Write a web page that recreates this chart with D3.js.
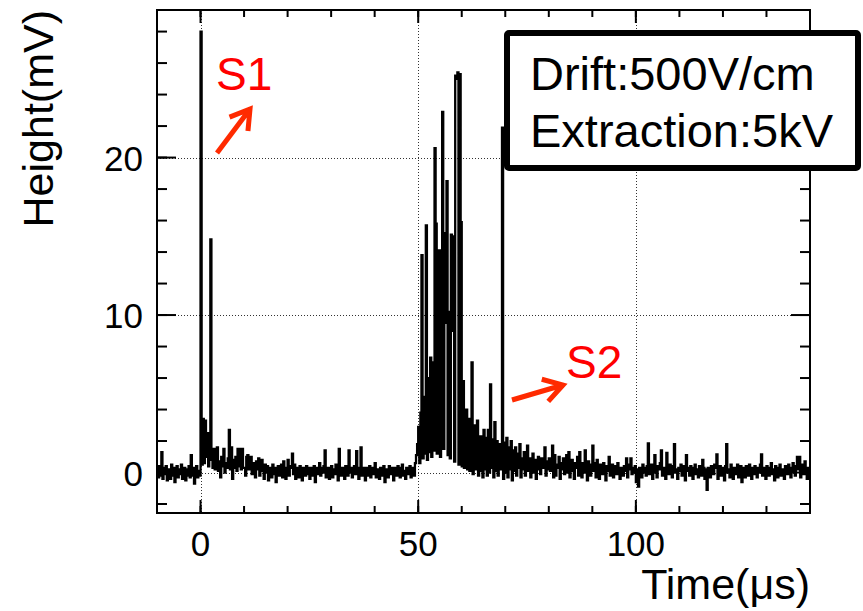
<!DOCTYPE html>
<html>
<head>
<meta charset="utf-8">
<script src="https://cdn.jsdelivr.net/npm/d3@7"></script>
<style>
  html, body { margin: 0; padding: 0; background: #fff; }
  svg { display: block; }
  text { font-family: "Liberation Sans", Arial, sans-serif; }
</style>
</head>
<body>
<svg id="chart" width="863" height="611"></svg>
<script>
// ---------------- data ----------------
const sampleStart = -10;   // µs, time of first sample
const sampleStep = 0.25;   // µs between samples

// t = -10 .. -0.25 µs (pre-trigger baseline)
const preTrigger = [0.2,-0.3,0.4,-0.2,1.3,-0.4,0.3,-0.1,0.4,-0.5,0.2,0.0,-0.4,0.5,-0.2,0.3,-0.6,0.1,0.4,-0.3,
  0.2,-0.1,0.5,-0.4,0.1,0.3,-0.5,0.2,-0.2,0.4,-0.3,1.1,-0.2,0.3,-0.7,0.2,0.4,-0.3,0.1,-0.2];

// t = 0 .. 9.75 µs (S1)
const s1Region = [28.0,0.5,3.4,0.6,3.3,1.0,2.5,0.4,0.8,14.8,1.2,0.3,1.5,0.2,0.9,1.6,0.1,0.7,-0.3,1.0,
  0.4,1.5,0.0,0.6,0.3,0.9,2.7,0.2,1.6,-0.4,0.8,0.3,1.0,0.1,1.5,0.4,1.5,0.2,1.5,0.3];

// t = 10 .. 49.75 µs (drift)
const driftRegion = [
  0.3,-0.2,1.0,1.1,0.2,0.8,1.0,-0.1,0.6,0.3,
  -0.3,0.7,0.2,0.9,-0.2,0.4,0.8,0.1,-0.4,0.5,
  0.0,0.4,-0.5,0.3,0.2,-0.3,0.5,-0.1,0.3,-0.6,
  0.2,0.4,-0.2,0.1,0.5,-0.3,0.7,0.0,-0.4,0.3,
  0.8,-0.2,0.3,0.4,1.2,-0.1,0.5,-0.4,0.2,0.3,
  -0.3,0.4,0.1,-0.5,0.3,0.2,-0.2,0.4,-0.1,0.3,
  -0.4,0.2,0.3,-0.2,0.4,-0.6,0.1,0.3,-0.1,0.6,
  -0.2,0.3,0.0,0.4,1.4,-0.3,0.2,0.3,-0.4,0.2,
  0.4,-0.3,0.2,-0.1,0.5,0.1,-0.5,1.5,0.2,-0.2,
  0.3,0.1,-0.4,0.4,0.2,-0.2,1.4,0.0,0.3,-0.3,
  0.2,0.4,-0.1,1.35,0.3,-0.4,0.2,1.6,-0.2,0.3,
  0.1,-0.5,0.3,0.2,-0.2,0.4,-0.3,0.1,0.3,-0.1,
  0.6,-0.3,0.2,0.0,-0.4,0.3,0.2,-0.2,0.4,-0.6,
  0.2,0.1,-0.3,0.4,-0.1,0.2,0.3,-0.5,0.1,0.3,
  -0.2,0.4,0.0,-0.3,0.3,0.5,-0.2,0.1,-0.4,0.3,
  0.2,-0.1,0.4,-0.3,0.3,0.1,-0.2,0.6,1.1,1.8];

// t = 50 .. 71.75 µs (S2 burst)
const s2Region = [
  2.9,0.6,3.8,13.8,0.9,4.8,1.2,15.7,0.8,6.0,
  1.3,7.3,1.0,7.0,1.4,20.6,15.8,1.2,8.0,14.1,
  1.0,9.0,22.9,1.5,15.2,9.5,18.5,1.1,10.2,0.9,
  15.1,9.0,15.0,0.7,25.2,25.0,25.4,0.5,25.3,15.9,
  0.4,5.8,0.3,4.0,4.0,0.2,3.4,0.1,3.0,7.0,
  -0.1,3.0,0.2,2.6,3.3,-0.2,2.3,0.1,2.3,-0.3,
  2.7,0.2,2.2,-0.2,2.7,0.0,5.6,0.3,2.1,-0.3,
  3.2,0.1,2.0,-0.2,1.8,0.2,1.7,21.9,-0.4,1.9,
  0.0,2.2,-0.3,1.6,0.2,2.0,-0.5,1.4];

// t = 72 .. 139.75 µs (tail)
const tailRegion = [
  0.1,1.6,-0.2,1.2,0.3,1.8,-0.3,0.9,0.2,1.3,
  -0.2,0.6,1.7,0.1,0.9,-0.3,0.7,1.2,0.0,0.8,
  -0.4,0.5,1.0,0.2,-0.1,0.9,0.3,0.6,1.6,-0.2,
  0.7,0.2,0.9,0.1,0.6,1.7,-0.3,1.1,-0.2,0.5,
  0.3,1.0,-0.4,0.6,0.2,0.9,-0.1,0.4,1.1,0.0,
  1.3,-0.3,0.5,0.8,0.1,-0.4,0.6,0.3,1.0,-0.2,
  1.3,0.2,-0.3,0.6,0.0,1.4,0.4,-0.5,0.7,0.3,
  -0.2,0.5,1.7,0.1,0.6,-0.3,0.8,0.2,-0.4,0.5,
  0.3,-0.1,0.6,0.2,-0.5,0.4,0.1,1.0,-0.2,0.3,
  0.5,-0.3,0.2,0.4,-0.1,0.6,0.0,-0.4,0.3,0.2,
  -0.2,0.4,0.1,0.9,-0.3,0.5,0.2,0.9,-0.1,0.3,
  0.0,0.4,-0.6,0.2,-0.9,0.3,0.1,-0.3,0.5,0.0,
  0.3,-0.2,0.4,1.85,-0.1,0.2,0.5,-0.4,0.3,1.1,
  0.0,-0.3,0.4,0.2,0.6,1.4,-0.2,0.3,0.1,-0.4,
  1.25,0.2,-0.1,0.5,0.3,-0.3,0.4,1.8,0.0,0.2,
  -0.4,0.3,0.1,0.5,-0.2,0.2,0.4,-0.5,1.1,0.1,
  0.3,-0.2,0.4,0.0,-0.4,0.3,0.5,-0.1,0.2,-0.3,
  0.4,0.1,-0.2,0.8,0.3,-0.4,0.2,-1.1,0.3,0.0,
  -0.3,0.4,0.2,-0.1,0.5,0.3,1.15,-0.4,0.2,0.4,
  -0.2,0.3,0.1,-0.5,0.4,1.8,0.0,0.2,-0.3,0.5,
  0.1,-0.4,0.3,0.2,-0.1,0.5,-0.3,0.2,0.4,-0.6,
  0.3,0.0,-0.3,0.4,0.1,-0.2,0.5,0.2,-0.4,0.3,
  -0.1,0.4,0.2,-0.3,0.3,0.0,0.5,1.15,-0.2,0.3,
  0.1,-0.4,0.4,0.2,-0.2,0.3,0.6,-0.1,0.2,-0.5,
  0.4,0.1,-0.3,0.3,0.5,-0.2,0.2,0.0,-0.4,0.4,
  0.2,-0.1,0.5,0.3,-0.3,0.2,0.6,0.1,-0.2,0.4,
  1.0,0.2,1.0,-0.3,0.5,0.3,-0.1,0.7,0.2,-0.4,
  0.3,0.1];

const xDomain = [-10, 140];
const yDomain = [-2.57, 29.37];
const xMajorTicks = [0, 50, 100];
const xMinorTicks = [-10, 0, 10, 20, 30, 40, 50, 60, 70, 80, 90, 100, 110, 120, 130, 140];
const yMajorTicks = [0, 10, 20];
const yMinorTicks = [-2, 0, 2, 4, 6, 8, 10, 12, 14, 16, 18, 20, 22, 24, 26, 28];
const xTitle = "Time(μs)";
const yTitle = "Height(mV)";
const legendLines = ["Drift:500V/cm", "Extraction:5kV"];
const annotations = [
  { label: "S1", tx: 216, ty: 90, ax1: 217, ay1: 153, ax2: 250, ay2: 109 },
  { label: "S2", tx: 566, ty: 378, ax1: 512, ay1: 400, ax2: 563, ay2: 385 }
];

// ---------------- drawing ----------------
const values = [].concat(preTrigger, s1Region, driftRegion, s2Region, tailRegion);
const samples = values.map((v, i) => ({ t: sampleStart + i * sampleStep, v }));

const svg = d3.select("#chart");
const L = 157, R = 810, T = 10, B = 513;
const x = d3.scaleLinear().domain(xDomain).range([L, R]);
const y = d3.scaleLinear().domain(yDomain).range([B, T]);

svg.append("defs").append("clipPath").attr("id", "plotclip")
  .append("rect").attr("x", L).attr("y", T).attr("width", R - L).attr("height", B - T);

// grid
const grid = svg.append("g").attr("stroke", "#000").attr("stroke-width", 1)
  .attr("stroke-dasharray", "1,2").attr("opacity", 0.8);
grid.selectAll("line.gx").data(xMajorTicks).enter().append("line")
  .attr("x1", d => Math.round(x(d)) + 0.5).attr("x2", d => Math.round(x(d)) + 0.5)
  .attr("y1", T).attr("y2", B);
grid.selectAll("line.gy").data(yMajorTicks).enter().append("line")
  .attr("y1", d => Math.round(y(d)) + 0.5).attr("y2", d => Math.round(y(d)) + 0.5)
  .attr("x1", L).attr("x2", R);

// trace
const line = d3.line().x(d => x(d.t)).y(d => y(d.v)).curve(d3.curveStepAfter);
svg.append("path").datum(samples)
  .attr("clip-path", "url(#plotclip)")
  .attr("fill", "none").attr("stroke", "#000").attr("stroke-width", 2.3)
  .attr("stroke-linejoin", "miter")
  .attr("d", line);

// ticks (all four sides, pointing inward)
const ticks = svg.append("g").attr("stroke", "#000").attr("stroke-width", 2);
function drawX(vals, len) {
  vals.forEach(v => {
    const px = x(v);
    ticks.append("line").attr("x1", px).attr("x2", px).attr("y1", B).attr("y2", B - len);
    ticks.append("line").attr("x1", px).attr("x2", px).attr("y1", T).attr("y2", T + len);
  });
}
function drawY(vals, len) {
  vals.forEach(v => {
    const py = y(v);
    ticks.append("line").attr("y1", py).attr("y2", py).attr("x1", L).attr("x2", L + len);
    ticks.append("line").attr("y1", py).attr("y2", py).attr("x1", R).attr("x2", R - len);
  });
}
drawX(xMinorTicks, 7);
drawX(xMajorTicks, 13);
drawY(yMinorTicks, 10);
drawY(yMajorTicks, 19);

// frame
svg.append("rect").attr("x", L).attr("y", T).attr("width", R - L).attr("height", B - T)
  .attr("fill", "none").attr("stroke", "#000").attr("stroke-width", 2);

// tick labels
svg.append("g").selectAll("text").data(xMajorTicks).enter().append("text")
  .attr("x", d => x(d)).attr("y", 556).attr("text-anchor", "middle")
  .attr("font-size", 35).attr("fill", "#000").text(d => d);
svg.append("g").selectAll("text").data(yMajorTicks).enter().append("text")
  .attr("x", 143).attr("y", d => y(d) + 13).attr("text-anchor", "end")
  .attr("font-size", 35).attr("fill", "#000").text(d => d);

// axis titles
svg.append("text").attr("x", 810).attr("y", 599).attr("text-anchor", "end")
  .attr("font-size", 43).attr("fill", "#000").text(xTitle);
svg.append("text").attr("transform", "translate(53,10) rotate(-90)")
  .attr("text-anchor", "end").attr("font-size", 43).attr("fill", "#000").text(yTitle);

// legend box
svg.append("rect").attr("x", 507).attr("y", 33).attr("width", 351).attr("height", 135)
  .attr("rx", 2).attr("fill", "#fff").attr("stroke", "#000").attr("stroke-width", 6);
svg.append("g").selectAll("text").data(legendLines).enter().append("text")
  .attr("x", 530).attr("y", (d, i) => 90 + i * 57)
  .attr("font-size", 47).attr("fill", "#000").text(d => d);

// annotations
annotations.forEach(a => {
  svg.append("text").attr("x", a.tx).attr("y", a.ty).attr("font-size", 46)
    .attr("fill", "#ff0000").text(a.label);
  const ang = Math.atan2(a.ay2 - a.ay1, a.ax2 - a.ax1);
  const hl = 22, spread = 0.55;
  const h1 = [a.ax2 - hl * Math.cos(ang - spread), a.ay2 - hl * Math.sin(ang - spread)];
  const h2 = [a.ax2 - hl * Math.cos(ang + spread), a.ay2 - hl * Math.sin(ang + spread)];
  svg.append("path")
    .attr("d", `M${a.ax1},${a.ay1}L${a.ax2},${a.ay2}M${h1[0]},${h1[1]}L${a.ax2},${a.ay2}L${h2[0]},${h2[1]}`)
    .attr("fill", "none").attr("stroke", "#ff2a00").attr("stroke-width", 5)
    .attr("stroke-linecap", "butt").attr("stroke-linejoin", "miter");
});
</script>
</body>
</html>
